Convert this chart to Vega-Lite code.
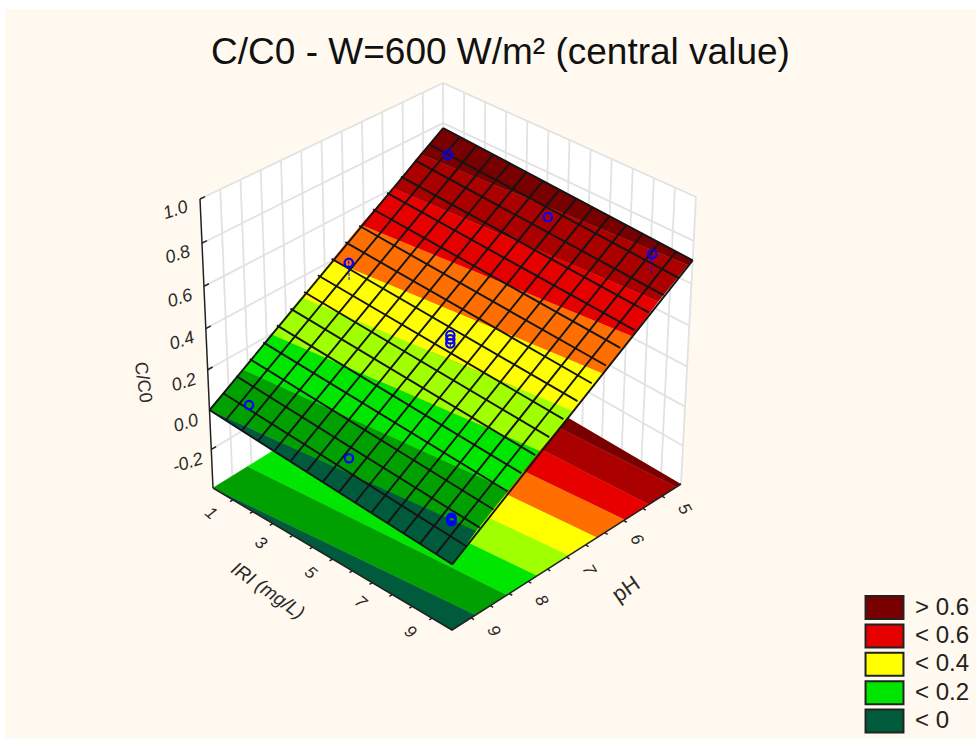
{"$schema":"https://vega.github.io/schema/vega-lite/v6.json","width":971,"height":729,"autosize":{"type":"none"},"padding":{"left":5,"top":9,"right":0,"bottom":0},"background":"#ffffff","view":{"fill":"#fff9ef","stroke":null},
"title":{"text":"C/C0 - W=600 W/m² (central value)","anchor":"middle","font":"Liberation Sans","fontSize":37,"fontWeight":"normal","color":"#111111","dy":67,"dx":10},
"config":{"legend":{"symbolType":"M-1.65,-1H1.65V1H-1.65Z","symbolSize":529,"symbolStrokeColor":"#222222","symbolStrokeWidth":2,"symbolOpacity":1,"labelFont":"Liberation Sans","labelFontSize":24,"labelColor":"#222222","rowPadding":-2.6,"labelOffset":18,"title":null}},
"data":{"values":[
{"k":"wall","id":"L","i":0,"pH":9.4,"R":0.2,"z":-0.4},{"k":"wall","id":"L","i":1,"pH":4.6,"R":0.2,"z":-0.4},{"k":"wall","id":"L","i":2,"pH":4.6,"R":0.2,"z":1},{"k":"wall","id":"L","i":3,"pH":9.4,"R":0.2,"z":1},
{"k":"wall","id":"Q","i":0,"pH":4.6,"R":0.2,"z":-0.4},{"k":"wall","id":"Q","i":1,"pH":4.6,"R":9.8,"z":-0.4},{"k":"wall","id":"Q","i":2,"pH":4.6,"R":9.8,"z":1},{"k":"wall","id":"Q","i":3,"pH":4.6,"R":0.2,"z":1},
{"k":"wg","id":"p0","i":0,"pH":4.6,"R":0.2,"z":-0.4},{"k":"wg","id":"p0","i":1,"pH":4.6,"R":0.2,"z":1},
{"k":"wg","id":"p1","i":0,"pH":5,"R":0.2,"z":-0.4},{"k":"wg","id":"p1","i":1,"pH":5,"R":0.2,"z":1},
{"k":"wg","id":"p2","i":0,"pH":5.4,"R":0.2,"z":-0.4},{"k":"wg","id":"p2","i":1,"pH":5.4,"R":0.2,"z":1},
{"k":"wg","id":"p3","i":0,"pH":5.8,"R":0.2,"z":-0.4},{"k":"wg","id":"p3","i":1,"pH":5.8,"R":0.2,"z":1},
{"k":"wg","id":"p4","i":0,"pH":6.2,"R":0.2,"z":-0.4},{"k":"wg","id":"p4","i":1,"pH":6.2,"R":0.2,"z":1},
{"k":"wg","id":"p5","i":0,"pH":6.6,"R":0.2,"z":-0.4},{"k":"wg","id":"p5","i":1,"pH":6.6,"R":0.2,"z":1},
{"k":"wg","id":"p6","i":0,"pH":7,"R":0.2,"z":-0.4},{"k":"wg","id":"p6","i":1,"pH":7,"R":0.2,"z":1},
{"k":"wg","id":"p7","i":0,"pH":7.4,"R":0.2,"z":-0.4},{"k":"wg","id":"p7","i":1,"pH":7.4,"R":0.2,"z":1},
{"k":"wg","id":"p8","i":0,"pH":7.8,"R":0.2,"z":-0.4},{"k":"wg","id":"p8","i":1,"pH":7.8,"R":0.2,"z":1},
{"k":"wg","id":"p9","i":0,"pH":8.2,"R":0.2,"z":-0.4},{"k":"wg","id":"p9","i":1,"pH":8.2,"R":0.2,"z":1},
{"k":"wg","id":"p10","i":0,"pH":8.6,"R":0.2,"z":-0.4},{"k":"wg","id":"p10","i":1,"pH":8.6,"R":0.2,"z":1},
{"k":"wg","id":"p11","i":0,"pH":9,"R":0.2,"z":-0.4},{"k":"wg","id":"p11","i":1,"pH":9,"R":0.2,"z":1},
{"k":"wg","id":"r1","i":0,"pH":4.6,"R":1,"z":-0.4},{"k":"wg","id":"r1","i":1,"pH":4.6,"R":1,"z":1},
{"k":"wg","id":"r2","i":0,"pH":4.6,"R":1.8,"z":-0.4},{"k":"wg","id":"r2","i":1,"pH":4.6,"R":1.8,"z":1},
{"k":"wg","id":"r3","i":0,"pH":4.6,"R":2.6,"z":-0.4},{"k":"wg","id":"r3","i":1,"pH":4.6,"R":2.6,"z":1},
{"k":"wg","id":"r4","i":0,"pH":4.6,"R":3.4,"z":-0.4},{"k":"wg","id":"r4","i":1,"pH":4.6,"R":3.4,"z":1},
{"k":"wg","id":"r5","i":0,"pH":4.6,"R":4.2,"z":-0.4},{"k":"wg","id":"r5","i":1,"pH":4.6,"R":4.2,"z":1},
{"k":"wg","id":"r6","i":0,"pH":4.6,"R":5,"z":-0.4},{"k":"wg","id":"r6","i":1,"pH":4.6,"R":5,"z":1},
{"k":"wg","id":"r7","i":0,"pH":4.6,"R":5.8,"z":-0.4},{"k":"wg","id":"r7","i":1,"pH":4.6,"R":5.8,"z":1},
{"k":"wg","id":"r8","i":0,"pH":4.6,"R":6.6,"z":-0.4},{"k":"wg","id":"r8","i":1,"pH":4.6,"R":6.6,"z":1},
{"k":"wg","id":"r9","i":0,"pH":4.6,"R":7.4,"z":-0.4},{"k":"wg","id":"r9","i":1,"pH":4.6,"R":7.4,"z":1},
{"k":"wg","id":"r10","i":0,"pH":4.6,"R":8.2,"z":-0.4},{"k":"wg","id":"r10","i":1,"pH":4.6,"R":8.2,"z":1},
{"k":"wg","id":"r11","i":0,"pH":4.6,"R":9,"z":-0.4},{"k":"wg","id":"r11","i":1,"pH":4.6,"R":9,"z":1},
{"k":"wg","id":"r12","i":0,"pH":4.6,"R":9.8,"z":-0.4},{"k":"wg","id":"r12","i":1,"pH":4.6,"R":9.8,"z":1},
{"k":"wg","id":"z1","i":0,"pH":9.4,"R":0.2,"z":-0.2},{"k":"wg","id":"z1","i":1,"pH":4.6,"R":0.2,"z":-0.2},{"k":"wg","id":"z1","i":2,"pH":4.6,"R":9.8,"z":-0.2},
{"k":"wg","id":"z2","i":0,"pH":9.4,"R":0.2,"z":0},{"k":"wg","id":"z2","i":1,"pH":4.6,"R":0.2,"z":0},{"k":"wg","id":"z2","i":2,"pH":4.6,"R":9.8,"z":0},
{"k":"wg","id":"z3","i":0,"pH":9.4,"R":0.2,"z":0.2},{"k":"wg","id":"z3","i":1,"pH":4.6,"R":0.2,"z":0.2},{"k":"wg","id":"z3","i":2,"pH":4.6,"R":9.8,"z":0.2},
{"k":"wg","id":"z4","i":0,"pH":9.4,"R":0.2,"z":0.4},{"k":"wg","id":"z4","i":1,"pH":4.6,"R":0.2,"z":0.4},{"k":"wg","id":"z4","i":2,"pH":4.6,"R":9.8,"z":0.4},
{"k":"wg","id":"z5","i":0,"pH":9.4,"R":0.2,"z":0.6},{"k":"wg","id":"z5","i":1,"pH":4.6,"R":0.2,"z":0.6},{"k":"wg","id":"z5","i":2,"pH":4.6,"R":9.8,"z":0.6},
{"k":"wg","id":"z6","i":0,"pH":9.4,"R":0.2,"z":0.8},{"k":"wg","id":"z6","i":1,"pH":4.6,"R":0.2,"z":0.8},{"k":"wg","id":"z6","i":2,"pH":4.6,"R":9.8,"z":0.8},
{"k":"wg","id":"z7","i":0,"pH":9.4,"R":0.2,"z":1},{"k":"wg","id":"z7","i":1,"pH":4.6,"R":0.2,"z":1},{"k":"wg","id":"z7","i":2,"pH":4.6,"R":9.8,"z":1},
{"k":"band","id":"b9","band":"> 0.7","i":0,"pH":4.6,"R":0.2,"z":0.775},{"k":"band","id":"b9","band":"> 0.7","i":1,"pH":5.056,"R":0.2,"z":0.7},{"k":"band","id":"b9","band":"> 0.7","i":2,"pH":4.696,"R":9.8,"z":0.7},{"k":"band","id":"b9","band":"> 0.7","i":3,"pH":4.6,"R":9.8,"z":0.71},
{"k":"band","id":"b8","band":"0.6-0.7","i":0,"pH":5.056,"R":0.2,"z":0.7},{"k":"band","id":"b8","band":"0.6-0.7","i":1,"pH":5.608,"R":0.2,"z":0.6},{"k":"band","id":"b8","band":"0.6-0.7","i":2,"pH":5.272,"R":9.8,"z":0.6},{"k":"band","id":"b8","band":"0.6-0.7","i":3,"pH":4.696,"R":9.8,"z":0.7},
{"k":"band","id":"b7","band":"0.5-0.6","i":0,"pH":5.608,"R":0.2,"z":0.6},{"k":"band","id":"b7","band":"0.5-0.6","i":1,"pH":6.256,"R":0.2,"z":0.5},{"k":"band","id":"b7","band":"0.5-0.6","i":2,"pH":5.776,"R":9.8,"z":0.5},{"k":"band","id":"b7","band":"0.5-0.6","i":3,"pH":5.272,"R":9.8,"z":0.6},
{"k":"band","id":"b6","band":"0.4-0.5","i":0,"pH":6.256,"R":0.2,"z":0.5},{"k":"band","id":"b6","band":"0.4-0.5","i":1,"pH":6.856,"R":0.2,"z":0.4},{"k":"band","id":"b6","band":"0.4-0.5","i":2,"pH":6.362,"R":9.8,"z":0.4},{"k":"band","id":"b6","band":"0.4-0.5","i":3,"pH":5.776,"R":9.8,"z":0.5},
{"k":"band","id":"b5","band":"0.3-0.4","i":0,"pH":6.856,"R":0.2,"z":0.4},{"k":"band","id":"b5","band":"0.3-0.4","i":1,"pH":7.48,"R":0.2,"z":0.3},{"k":"band","id":"b5","band":"0.3-0.4","i":2,"pH":6.952,"R":9.8,"z":0.3},{"k":"band","id":"b5","band":"0.3-0.4","i":3,"pH":6.362,"R":9.8,"z":0.4},
{"k":"band","id":"b4","band":"0.2-0.3","i":0,"pH":7.48,"R":0.2,"z":0.3},{"k":"band","id":"b4","band":"0.2-0.3","i":1,"pH":8.104,"R":0.2,"z":0.2},{"k":"band","id":"b4","band":"0.2-0.3","i":2,"pH":7.619,"R":9.8,"z":0.2},{"k":"band","id":"b4","band":"0.2-0.3","i":3,"pH":6.952,"R":9.8,"z":0.3},
{"k":"band","id":"b3","band":"0.1-0.2","i":0,"pH":8.104,"R":0.2,"z":0.2},{"k":"band","id":"b3","band":"0.1-0.2","i":1,"pH":8.68,"R":0.2,"z":0.1},{"k":"band","id":"b3","band":"0.1-0.2","i":2,"pH":8.248,"R":9.8,"z":0.1},{"k":"band","id":"b3","band":"0.1-0.2","i":3,"pH":7.619,"R":9.8,"z":0.2},
{"k":"band","id":"b2","band":"0-0.1","i":0,"pH":8.68,"R":0.2,"z":0.1},{"k":"band","id":"b2","band":"0-0.1","i":1,"pH":9.4,"R":0.2,"z":0},{"k":"band","id":"b2","band":"0-0.1","i":2,"pH":8.91,"R":9.8,"z":0},{"k":"band","id":"b2","band":"0-0.1","i":3,"pH":8.248,"R":9.8,"z":0.1},
{"k":"band","id":"b1","band":"< 0","i":0,"pH":9.4,"R":0.2,"z":0},{"k":"band","id":"b1","band":"< 0","i":1,"pH":9.4,"R":9.8,"z":-0.09},{"k":"band","id":"b1","band":"< 0","i":2,"pH":8.91,"R":9.8,"z":0},
{"k":"g","id":"a0","i":0,"pH":4.6,"R":0.2,"z":0.775},{"k":"g","id":"a0","i":1,"pH":4.6,"R":9.8,"z":0.71},
{"k":"g","id":"a1","i":0,"pH":4.882,"R":0.2,"z":0.729},{"k":"g","id":"a1","i":1,"pH":4.882,"R":9.8,"z":0.663},
{"k":"g","id":"a2","i":0,"pH":5.165,"R":0.2,"z":0.684},{"k":"g","id":"a2","i":1,"pH":5.165,"R":9.8,"z":0.616},
{"k":"g","id":"a3","i":0,"pH":5.447,"R":0.2,"z":0.638},{"k":"g","id":"a3","i":1,"pH":5.447,"R":9.8,"z":0.569},
{"k":"g","id":"a4","i":0,"pH":5.729,"R":0.2,"z":0.593},{"k":"g","id":"a4","i":1,"pH":5.729,"R":9.8,"z":0.522},
{"k":"g","id":"a5","i":0,"pH":6.012,"R":0.2,"z":0.547},{"k":"g","id":"a5","i":1,"pH":6.012,"R":9.8,"z":0.475},
{"k":"g","id":"a6","i":0,"pH":6.294,"R":0.2,"z":0.501},{"k":"g","id":"a6","i":1,"pH":6.294,"R":9.8,"z":0.428},
{"k":"g","id":"a7","i":0,"pH":6.576,"R":0.2,"z":0.456},{"k":"g","id":"a7","i":1,"pH":6.576,"R":9.8,"z":0.381},
{"k":"g","id":"a8","i":0,"pH":6.859,"R":0.2,"z":0.41},{"k":"g","id":"a8","i":1,"pH":6.859,"R":9.8,"z":0.334},
{"k":"g","id":"a9","i":0,"pH":7.141,"R":0.2,"z":0.365},{"k":"g","id":"a9","i":1,"pH":7.141,"R":9.8,"z":0.286},
{"k":"g","id":"a10","i":0,"pH":7.424,"R":0.2,"z":0.319},{"k":"g","id":"a10","i":1,"pH":7.424,"R":9.8,"z":0.239},
{"k":"g","id":"a11","i":0,"pH":7.706,"R":0.2,"z":0.274},{"k":"g","id":"a11","i":1,"pH":7.706,"R":9.8,"z":0.192},
{"k":"g","id":"a12","i":0,"pH":7.988,"R":0.2,"z":0.228},{"k":"g","id":"a12","i":1,"pH":7.988,"R":9.8,"z":0.145},
{"k":"g","id":"a13","i":0,"pH":8.271,"R":0.2,"z":0.182},{"k":"g","id":"a13","i":1,"pH":8.271,"R":9.8,"z":0.098},
{"k":"g","id":"a14","i":0,"pH":8.553,"R":0.2,"z":0.137},{"k":"g","id":"a14","i":1,"pH":8.553,"R":9.8,"z":0.051},
{"k":"g","id":"a15","i":0,"pH":8.835,"R":0.2,"z":0.091},{"k":"g","id":"a15","i":1,"pH":8.835,"R":9.8,"z":0.004},
{"k":"g","id":"a16","i":0,"pH":9.118,"R":0.2,"z":0.046},{"k":"g","id":"a16","i":1,"pH":9.118,"R":9.8,"z":-0.043},
{"k":"g","id":"a17","i":0,"pH":9.4,"R":0.2,"z":0},{"k":"g","id":"a17","i":1,"pH":9.4,"R":9.8,"z":-0.09},
{"k":"g","id":"c0","i":0,"pH":4.6,"R":0.2,"z":0.775},{"k":"g","id":"c0","i":1,"pH":9.4,"R":0.2,"z":0},
{"k":"g","id":"c1","i":0,"pH":4.6,"R":0.84,"z":0.771},{"k":"g","id":"c1","i":1,"pH":9.4,"R":0.84,"z":-0.006},
{"k":"g","id":"c2","i":0,"pH":4.6,"R":1.48,"z":0.766},{"k":"g","id":"c2","i":1,"pH":9.4,"R":1.48,"z":-0.012},
{"k":"g","id":"c3","i":0,"pH":4.6,"R":2.12,"z":0.762},{"k":"g","id":"c3","i":1,"pH":9.4,"R":2.12,"z":-0.018},
{"k":"g","id":"c4","i":0,"pH":4.6,"R":2.76,"z":0.758},{"k":"g","id":"c4","i":1,"pH":9.4,"R":2.76,"z":-0.024},
{"k":"g","id":"c5","i":0,"pH":4.6,"R":3.4,"z":0.753},{"k":"g","id":"c5","i":1,"pH":9.4,"R":3.4,"z":-0.03},
{"k":"g","id":"c6","i":0,"pH":4.6,"R":4.04,"z":0.749},{"k":"g","id":"c6","i":1,"pH":9.4,"R":4.04,"z":-0.036},
{"k":"g","id":"c7","i":0,"pH":4.6,"R":4.68,"z":0.745},{"k":"g","id":"c7","i":1,"pH":9.4,"R":4.68,"z":-0.042},
{"k":"g","id":"c8","i":0,"pH":4.6,"R":5.32,"z":0.74},{"k":"g","id":"c8","i":1,"pH":9.4,"R":5.32,"z":-0.048},
{"k":"g","id":"c9","i":0,"pH":4.6,"R":5.96,"z":0.736},{"k":"g","id":"c9","i":1,"pH":9.4,"R":5.96,"z":-0.054},
{"k":"g","id":"c10","i":0,"pH":4.6,"R":6.6,"z":0.732},{"k":"g","id":"c10","i":1,"pH":9.4,"R":6.6,"z":-0.06},
{"k":"g","id":"c11","i":0,"pH":4.6,"R":7.24,"z":0.727},{"k":"g","id":"c11","i":1,"pH":9.4,"R":7.24,"z":-0.066},
{"k":"g","id":"c12","i":0,"pH":4.6,"R":7.88,"z":0.723},{"k":"g","id":"c12","i":1,"pH":9.4,"R":7.88,"z":-0.072},
{"k":"g","id":"c13","i":0,"pH":4.6,"R":8.52,"z":0.719},{"k":"g","id":"c13","i":1,"pH":9.4,"R":8.52,"z":-0.078},
{"k":"g","id":"c14","i":0,"pH":4.6,"R":9.16,"z":0.714},{"k":"g","id":"c14","i":1,"pH":9.4,"R":9.16,"z":-0.084},
{"k":"g","id":"c15","i":0,"pH":4.6,"R":9.8,"z":0.71},{"k":"g","id":"c15","i":1,"pH":9.4,"R":9.8,"z":-0.09},
{"k":"ax","id":"zax","i":0,"pH":9.4,"R":0.2,"z":-0.4},{"k":"ax","id":"zax","i":1,"pH":9.4,"R":0.2,"z":1},
{"k":"ax","id":"fax","i":0,"pH":9.4,"R":0.2,"z":-0.4},{"k":"ax","id":"fax","i":1,"pH":9.4,"R":9.8,"z":-0.4},{"k":"ax","id":"fax","i":2,"pH":4.6,"R":9.8,"z":-0.4},
{"k":"ax","id":"zt1","i":0,"pH":9.4,"R":0.2,"z":-0.2},{"k":"ax","id":"zt1","i":1,"pH":9.3,"R":0.2,"z":-0.2},
{"k":"ax","id":"zt2","i":0,"pH":9.4,"R":0.2,"z":0},{"k":"ax","id":"zt2","i":1,"pH":9.3,"R":0.2,"z":0},
{"k":"ax","id":"zt3","i":0,"pH":9.4,"R":0.2,"z":0.2},{"k":"ax","id":"zt3","i":1,"pH":9.3,"R":0.2,"z":0.2},
{"k":"ax","id":"zt4","i":0,"pH":9.4,"R":0.2,"z":0.4},{"k":"ax","id":"zt4","i":1,"pH":9.3,"R":0.2,"z":0.4},
{"k":"ax","id":"zt5","i":0,"pH":9.4,"R":0.2,"z":0.6},{"k":"ax","id":"zt5","i":1,"pH":9.3,"R":0.2,"z":0.6},
{"k":"ax","id":"zt6","i":0,"pH":9.4,"R":0.2,"z":0.8},{"k":"ax","id":"zt6","i":1,"pH":9.3,"R":0.2,"z":0.8},
{"k":"ax","id":"zt7","i":0,"pH":9.4,"R":0.2,"z":1},{"k":"ax","id":"zt7","i":1,"pH":9.3,"R":0.2,"z":1},
{"k":"ax","id":"rt1","i":0,"pH":9.4,"R":1,"z":-0.4},{"k":"ax","id":"rt1","i":1,"pH":9.46,"R":1,"z":-0.4},
{"k":"ax","id":"rt2","i":0,"pH":9.4,"R":1.8,"z":-0.4},{"k":"ax","id":"rt2","i":1,"pH":9.46,"R":1.8,"z":-0.4},
{"k":"ax","id":"rt3","i":0,"pH":9.4,"R":2.6,"z":-0.4},{"k":"ax","id":"rt3","i":1,"pH":9.46,"R":2.6,"z":-0.4},
{"k":"ax","id":"rt4","i":0,"pH":9.4,"R":3.4,"z":-0.4},{"k":"ax","id":"rt4","i":1,"pH":9.46,"R":3.4,"z":-0.4},
{"k":"ax","id":"rt5","i":0,"pH":9.4,"R":4.2,"z":-0.4},{"k":"ax","id":"rt5","i":1,"pH":9.46,"R":4.2,"z":-0.4},
{"k":"ax","id":"rt6","i":0,"pH":9.4,"R":5,"z":-0.4},{"k":"ax","id":"rt6","i":1,"pH":9.46,"R":5,"z":-0.4},
{"k":"ax","id":"rt7","i":0,"pH":9.4,"R":5.8,"z":-0.4},{"k":"ax","id":"rt7","i":1,"pH":9.46,"R":5.8,"z":-0.4},
{"k":"ax","id":"rt8","i":0,"pH":9.4,"R":6.6,"z":-0.4},{"k":"ax","id":"rt8","i":1,"pH":9.46,"R":6.6,"z":-0.4},
{"k":"ax","id":"rt9","i":0,"pH":9.4,"R":7.4,"z":-0.4},{"k":"ax","id":"rt9","i":1,"pH":9.46,"R":7.4,"z":-0.4},
{"k":"ax","id":"rt10","i":0,"pH":9.4,"R":8.2,"z":-0.4},{"k":"ax","id":"rt10","i":1,"pH":9.46,"R":8.2,"z":-0.4},
{"k":"ax","id":"rt11","i":0,"pH":9.4,"R":9,"z":-0.4},{"k":"ax","id":"rt11","i":1,"pH":9.46,"R":9,"z":-0.4},
{"k":"ax","id":"pt1","i":0,"pH":5,"R":9.8,"z":-0.4},{"k":"ax","id":"pt1","i":1,"pH":5,"R":9.92,"z":-0.4},
{"k":"ax","id":"pt2","i":0,"pH":5.4,"R":9.8,"z":-0.4},{"k":"ax","id":"pt2","i":1,"pH":5.4,"R":9.92,"z":-0.4},
{"k":"ax","id":"pt3","i":0,"pH":5.8,"R":9.8,"z":-0.4},{"k":"ax","id":"pt3","i":1,"pH":5.8,"R":9.92,"z":-0.4},
{"k":"ax","id":"pt4","i":0,"pH":6.2,"R":9.8,"z":-0.4},{"k":"ax","id":"pt4","i":1,"pH":6.2,"R":9.92,"z":-0.4},
{"k":"ax","id":"pt5","i":0,"pH":6.6,"R":9.8,"z":-0.4},{"k":"ax","id":"pt5","i":1,"pH":6.6,"R":9.92,"z":-0.4},
{"k":"ax","id":"pt6","i":0,"pH":7,"R":9.8,"z":-0.4},{"k":"ax","id":"pt6","i":1,"pH":7,"R":9.92,"z":-0.4},
{"k":"ax","id":"pt7","i":0,"pH":7.4,"R":9.8,"z":-0.4},{"k":"ax","id":"pt7","i":1,"pH":7.4,"R":9.92,"z":-0.4},
{"k":"ax","id":"pt8","i":0,"pH":7.8,"R":9.8,"z":-0.4},{"k":"ax","id":"pt8","i":1,"pH":7.8,"R":9.92,"z":-0.4},
{"k":"ax","id":"pt9","i":0,"pH":8.2,"R":9.8,"z":-0.4},{"k":"ax","id":"pt9","i":1,"pH":8.2,"R":9.92,"z":-0.4},
{"k":"ax","id":"pt10","i":0,"pH":8.6,"R":9.8,"z":-0.4},{"k":"ax","id":"pt10","i":1,"pH":8.6,"R":9.92,"z":-0.4},
{"k":"ax","id":"pt11","i":0,"pH":9,"R":9.8,"z":-0.4},{"k":"ax","id":"pt11","i":1,"pH":9,"R":9.92,"z":-0.4},
{"k":"st","id":"s1","i":0,"pH":5,"R":1.15,"z":0.76},{"k":"st","id":"s1","i":1,"pH":5,"R":1.15,"z":0.71},
{"k":"st","id":"s2","i":0,"pH":5,"R":9,"z":0.74},{"k":"st","id":"s2","i":1,"pH":5,"R":9,"z":0.648},
{"k":"st","id":"s3","i":0,"pH":7,"R":1.15,"z":0.48},{"k":"st","id":"s3","i":1,"pH":7,"R":1.15,"z":0.38},
{"k":"st","id":"s4","i":0,"pH":7,"R":5.1,"z":0.33},{"k":"st","id":"s4","i":1,"pH":7,"R":5.1,"z":0.31},
{"k":"st","id":"s5","i":0,"pH":9,"R":9,"z":0.005},{"k":"st","id":"s5","i":1,"pH":9,"R":9,"z":-0.02},
{"k":"p","pH":5,"R":1.15,"z":0.75},{"k":"p","pH":5,"R":5,"z":0.68},{"k":"p","pH":5,"R":9,"z":0.74},
{"k":"p","pH":7,"R":1.15,"z":0.47},{"k":"p","pH":7,"R":5.1,"z":0.37},{"k":"p","pH":7,"R":5.1,"z":0.35},{"k":"p","pH":7,"R":5.1,"z":0.33},
{"k":"p","pH":9,"R":1,"z":0.025},{"k":"p","pH":9,"R":4.95,"z":0.034},{"k":"p","pH":9,"R":9,"z":0.02},{"k":"p","pH":9,"R":9,"z":0.014},{"k":"p","pH":9,"R":9,"z":0.005},
{"k":"zl","label":"1.0","pH":9.88,"R":0.2,"z":1},{"k":"zl","label":"0.8","pH":9.88,"R":0.2,"z":0.8},{"k":"zl","label":"0.6","pH":9.88,"R":0.2,"z":0.6},{"k":"zl","label":"0.4","pH":9.88,"R":0.2,"z":0.4},{"k":"zl","label":"0.2","pH":9.88,"R":0.2,"z":0.2},{"k":"zl","label":"0.0","pH":9.88,"R":0.2,"z":0},{"k":"zl","label":"-0.2","pH":9.88,"R":0.2,"z":-0.2},
{"k":"rl","label":"1","pH":9.86,"R":1,"z":-0.4},{"k":"rl","label":"3","pH":9.86,"R":3,"z":-0.4},{"k":"rl","label":"5","pH":9.86,"R":5,"z":-0.4},{"k":"rl","label":"7","pH":9.86,"R":7,"z":-0.4},{"k":"rl","label":"9","pH":9.86,"R":9,"z":-0.4},
{"k":"pl","label":"5","pH":5,"R":10.7,"z":-0.4},{"k":"pl","label":"6","pH":6,"R":10.7,"z":-0.4},{"k":"pl","label":"7","pH":7,"R":10.7,"z":-0.4},{"k":"pl","label":"8","pH":8,"R":10.7,"z":-0.4},{"k":"pl","label":"9","pH":9,"R":10.7,"z":-0.4},
{"k":"tz","label":"C/C0","pH":10.7,"R":0.2,"z":0.31},
{"k":"tr","label":"IRI (mg/L)","pH":10.6,"R":4.71,"z":-0.4},
{"k":"tp","label":"pH","pH":6.95,"R":12.1,"z":-0.4},
{"k":"lg","lab":"> 0.6","pH":7,"R":5,"z":0},{"k":"lg","lab":"< 0.6","pH":7,"R":5,"z":0},{"k":"lg","lab":"< 0.4","pH":7,"R":5,"z":0},{"k":"lg","lab":"< 0.2","pH":7,"R":5,"z":0},{"k":"lg","lab":"< 0","pH":7,"R":5,"z":0}
]},
"transform":[
{"calculate":"(datum.pH-4.6)/4.8","as":"a"},{"calculate":"(datum.R-0.2)/9.6","as":"b"},
{"calculate":"(datum.z+0.4)/1.4","as":"s"},{"calculate":"datum.s*0.923/(1-0.077*datum.s)","as":"t"},
{"calculate":"(1-datum.a)*(1-datum.b)","as":"wB"},{"calculate":"datum.a*(1-datum.b)","as":"wL"},{"calculate":"(1-datum.a)*datum.b","as":"wR"},{"calculate":"datum.a*datum.b","as":"wF"},
{"calculate":"444*datum.wB+213*datum.wL+681*datum.wR+452*datum.wF","as":"fx"},
{"calculate":"345*datum.wB+488*datum.wL+484*datum.wR+630*datum.wF","as":"fy"},
{"calculate":"443*datum.wB+200*datum.wL+696*datum.wR+453*datum.wF","as":"tx"},
{"calculate":"83*datum.wB+199*datum.wL+197*datum.wR+314*datum.wF","as":"ty"},
{"calculate":"datum.fx+datum.t*(datum.tx-datum.fx)","as":"sx"},
{"calculate":"datum.fy+datum.t*(datum.ty-datum.fy)","as":"sy"}
],
"encoding":{
"x":{"field":"sx","type":"quantitative","axis":null,"scale":{"domain":[5,976],"nice":false,"zero":false}},
"y":{"field":"sy","type":"quantitative","axis":null,"scale":{"domain":[738,9],"nice":false,"zero":false}}
},
"layer":[
{"transform":[{"filter":"datum.k=='wall'"}],"mark":{"type":"line","fill":"#ffffff","stroke":"#ffffff","strokeWidth":1},"encoding":{"detail":{"field":"id"},"order":{"field":"i"}}},
{"transform":[{"filter":"datum.k=='wg'"}],"mark":{"type":"line","stroke":"#e2e2e2","strokeWidth":1.8},"encoding":{"detail":{"field":"id"},"order":{"field":"i"}}},
{"transform":[{"filter":"datum.k=='band'"}],"mark":{"type":"line","strokeWidth":0.6},"encoding":{"x":{"field":"fx","type":"quantitative"},"y":{"field":"fy","type":"quantitative"},"detail":{"field":"id"},"order":{"field":"i"},
"fill":{"field":"band","type":"nominal","legend":null,"scale":{"domain":["> 0.7","0.6-0.7","0.5-0.6","0.4-0.5","0.3-0.4","0.2-0.3","0.1-0.2","0-0.1","< 0"],"range":["#780000","#aa0000","#e60000","#ff6e00","#ffff00","#a0ff00","#00e600","#00a000","#005a3c"]}},
"stroke":{"field":"band","type":"nominal","legend":null,"scale":{"domain":["> 0.7","0.6-0.7","0.5-0.6","0.4-0.5","0.3-0.4","0.2-0.3","0.1-0.2","0-0.1","< 0"],"range":["#780000","#aa0000","#e60000","#ff6e00","#ffff00","#a0ff00","#00e600","#00a000","#005a3c"]}}}},
{"transform":[{"filter":"datum.k=='ax'"}],"mark":{"type":"line","stroke":"#222222","strokeWidth":1.5},"encoding":{"detail":{"field":"id"},"order":{"field":"i"}}},
{"transform":[{"filter":"datum.k=='band'"}],"mark":{"type":"line","strokeWidth":0.6},"encoding":{"detail":{"field":"id"},"order":{"field":"i"},
"fill":{"field":"band","type":"nominal","legend":null},"stroke":{"field":"band","type":"nominal","legend":null}}},
{"transform":[{"filter":"datum.k=='g'"}],"mark":{"type":"line","stroke":"#141414","strokeWidth":1.9},"encoding":{"detail":{"field":"id"},"order":{"field":"i"}}},
{"transform":[{"filter":"datum.k=='st'"}],"mark":{"type":"line","stroke":"#0000ff","strokeWidth":1,"strokeDash":[3,1]},"encoding":{"detail":{"field":"id"},"order":{"field":"i"}}},
{"transform":[{"filter":"datum.k=='p'"}],"mark":{"type":"point","shape":"circle","size":70,"filled":false,"stroke":"#0000ff","strokeWidth":2.2,"opacity":1}},
{"transform":[{"filter":"datum.k=='zl'"}],"mark":{"type":"text","font":"Liberation Sans","fontStyle":"italic","fontSize":18,"angle":342,"color":"#2a2a2a"},"encoding":{"text":{"field":"label"}}},
{"transform":[{"filter":"datum.k=='rl'"}],"mark":{"type":"text","font":"Liberation Sans","fontStyle":"italic","fontSize":17,"angle":40,"color":"#2a2a2a"},"encoding":{"text":{"field":"label"}}},
{"transform":[{"filter":"datum.k=='pl'"}],"mark":{"type":"text","font":"Liberation Sans","fontStyle":"italic","fontSize":17,"angle":60,"color":"#2a2a2a"},"encoding":{"text":{"field":"label"}}},
{"transform":[{"filter":"datum.k=='tz'"}],"mark":{"type":"text","font":"Liberation Sans","fontSize":18,"angle":82,"color":"#2a2a2a"},"encoding":{"text":{"field":"label"}}},
{"transform":[{"filter":"datum.k=='tr'"}],"mark":{"type":"text","font":"Liberation Sans","fontStyle":"italic","fontSize":19,"angle":35,"color":"#2a2a2a"},"encoding":{"text":{"field":"label"}}},
{"transform":[{"filter":"datum.k=='tp'"}],"mark":{"type":"text","font":"Liberation Sans","fontSize":22,"angle":325,"color":"#2a2a2a"},"encoding":{"text":{"field":"label"}}},
{"transform":[{"filter":"datum.k=='lg'"}],"mark":{"type":"point","filled":true,"size":0,"opacity":1},"encoding":{"color":{"field":"lab","type":"nominal","scale":{"domain":["> 0.6","< 0.6","< 0.4","< 0.2","< 0"],"range":["#780000","#e60000","#ffff00","#00e600","#005a3c"]},"legend":{"orient":"none","legendX":867,"legendY":586,"title":null}}}}
]}
